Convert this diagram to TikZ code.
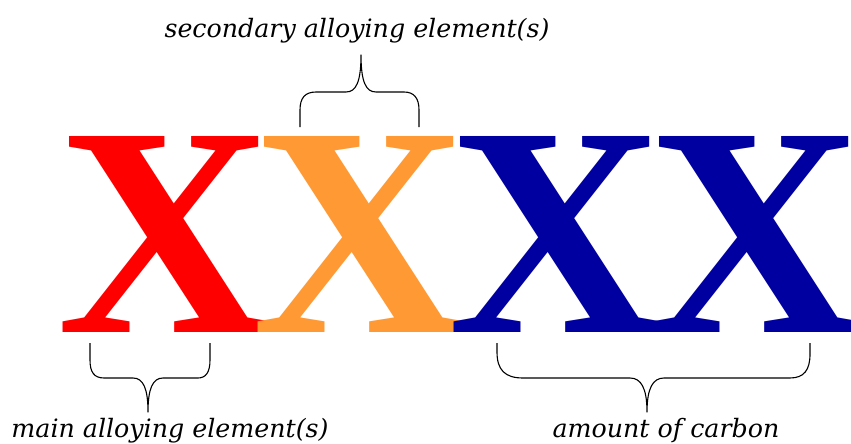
\documentclass[tikz,border=0pt]{standalone}
\usepackage{fontspec}
\setmainfont{Liberation Serif}
\newfontfamily\labelfont{DejaVu Serif}
\definecolor{xred}{RGB}{255,0,0}
\definecolor{xorange}{RGB}{255,153,51}
\definecolor{xblue}{RGB}{0,0,160}
\begin{document}
\begin{tikzpicture}[x=1pt,y=-1pt,
  bigx/.style={inner sep=0pt,font=\bfseries},
  lbl/.style={inner sep=0pt,anchor=base,font=\labelfont\itshape\fontsize{25.3}{30}\selectfont},
  brace/.style={draw=black,line width=1.1pt,line join=round}]
\useasboundingbox (0,0) rectangle (851,444);
\fill[white] (0,0) rectangle (851,444);
% letters
\node[bigx,text=xred]    (x1) at (166,234) {\resizebox{216pt}{196pt}{X}};
\node[bigx,text=xorange] (x2) at (361,234) {\resizebox{216pt}{196pt}{X}};
\node[bigx,text=xblue]   (x3) at (557,234) {\resizebox{216pt}{196pt}{X}};
\node[bigx,text=xblue]   (x4) at (756,234) {\resizebox{216pt}{196pt}{X}};
% labels
\node[lbl] (lsec) at (357,38) {secondary alloying element(s)};
\node[lbl] (lmain) at (170,437) {main alloying element(s)};
\node[lbl] (lcarb) at (666,437) {amount of carbon};
% top brace
\coordinate (ta) at (300,127);
\coordinate (tb) at (419,127);
\coordinate (tp) at (361,55);
\draw[brace] (ta) -- (300,110) .. controls (300,98) and (305,92) .. (316,92) -- (346,92)
  .. controls (356,92) and (361,82) .. (tp)
  .. controls (361,82) and (366,92) .. (376,92) -- (404,92)
  .. controls (414,92) and (419,98) .. (419,110) -- (tb);
% bottom left brace
\coordinate (ma) at (90,343);
\coordinate (mb) at (210,343);
\coordinate (mp) at (148,412);
\draw[brace] (ma) -- (90,360) .. controls (90,372) and (94,378) .. (104,378) -- (133,378)
  .. controls (143,378) and (148,388) .. (mp)
  .. controls (148,388) and (153,378) .. (163,378) -- (198,378)
  .. controls (206,378) and (210,372) .. (210,360) -- (mb);
% bottom right brace
\coordinate (ca) at (497,343);
\coordinate (cb) at (810,343);
\coordinate (cp) at (647,412);
\draw[brace] (ca) -- (497,352) .. controls (497,370) and (505,378) .. (523,378) -- (630,378)
  .. controls (641,378) and (647,388) .. (cp)
  .. controls (647,388) and (653,378) .. (664,378) -- (790,378)
  .. controls (804,378) and (810,370) .. (810,354) -- (cb);
\end{tikzpicture}
\end{document}
